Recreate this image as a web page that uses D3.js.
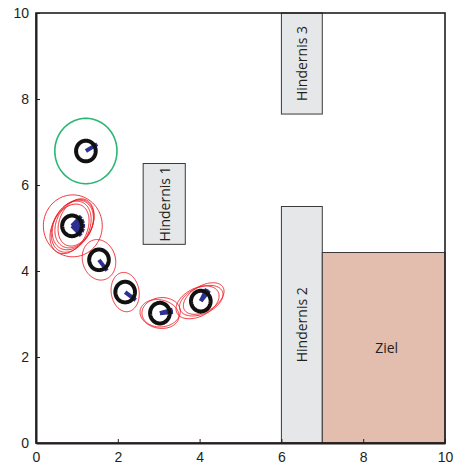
<!DOCTYPE html>
<html>
<head>
<meta charset="utf-8">
<script src="https://cdn.jsdelivr.net/npm/d3@7"></script>
<style>
  html, body { margin: 0; padding: 0; background: #fff; }
  svg { display: block; }
</style>
</head>
<body>
<svg id="chart" width="456" height="468"></svg>
<script>
// Axis ticks
const xTicks = [0, 2, 4, 6, 8, 10];
const yTicks = [0, 2, 4, 6, 8, 10];

// Obstacles and goal region: [x0, x1, y0, y1]
const regionNames = ["Hindernis 1", "Hindernis 2", "Hindernis 3", "Ziel"];
const regionX0 = [2.62, 6.0, 6.0, 7.0];
const regionX1 = [3.65, 7.0, 7.0, 10.0];
const regionY0 = [4.62, 0.0, 7.65, 0.0];
const regionY1 = [6.5, 5.5, 10.0, 4.43];

// Robot poses along the path
const robotX = [1.22, 0.88, 1.54, 2.18, 3.03, 4.03];
const robotY = [6.79, 5.05, 4.26, 3.51, 3.02, 3.30];

// Heading samples (degrees) per pose: [pose index, angle]
const headingPose = [0, 1, 1, 1, 1, 1, 2, 3, 4, 4, 5, 5];
const headingDeg  = [30, -45, -22, 0, 22, 45, -52, -36, 5, 15, 63, 50];

// Uncertainty ellipses: centre, semi-axes (data units), rotation (degrees)
const initCx = [1.22], initCy = [6.79], initA = [0.76], initB = [0.76], initRot = [0];
const ellCx  = [0.90, 0.82, 0.86, 0.90, 0.94, 0.98, 1.54, 2.18, 3.02, 3.06, 3.95, 4.04, 4.10];
const ellCy  = [5.05, 4.98, 5.03, 5.07, 5.10, 5.13, 4.26, 3.51, 3.00, 3.04, 3.27, 3.31, 3.36];
const ellA   = [0.72, 0.62, 0.63, 0.62, 0.60, 0.58, 0.48, 0.46, 0.48, 0.47, 0.56, 0.56, 0.54];
const ellB   = [0.72, 0.42, 0.44, 0.45, 0.43, 0.40, 0.40, 0.34, 0.33, 0.34, 0.33, 0.31, 0.30];
const ellRot = [0, 60, 62, 58, 60, 64, -70, -80, -10, 5, 25, 22, 28];

const robotR = 0.24;
const headingLen = 0.32;

const svg = d3.select("#chart");
const margin = { left: 36, right: 11, top: 13, bottom: 25 };
const W = 456, H = 468;

const x = d3.scaleLinear().domain([0, 10]).range([margin.left, W - margin.right]);
const y = d3.scaleLinear().domain([0, 10]).range([H - margin.bottom, margin.top]);

const ink = "#231f20";

// Regions
const regions = regionNames.map((n, i) => ({
  name: n, x0: regionX0[i], x1: regionX1[i], y0: regionY0[i], y1: regionY1[i]
}));
const rg = svg.append("g");
rg.selectAll("rect").data(regions).join("rect")
  .attr("x", d => x(d.x0))
  .attr("y", d => y(d.y1))
  .attr("width", d => x(d.x1) - x(d.x0))
  .attr("height", d => y(d.y0) - y(d.y1))
  .attr("fill", d => d.name === "Ziel" ? "#e3bdae" : "#e6e7e8")
  .attr("stroke", "#3a3a3a")
  .attr("stroke-width", 1);

rg.selectAll("text").data(regions).join("text")
  .attr("transform", d => {
    const cx = x((d.x0 + d.x1) / 2) + (d.name === "Ziel" ? 3 : 0), cy = y((d.y0 + d.y1) / 2);
    return d.name === "Ziel" ? `translate(${cx},${cy})` : `translate(${cx},${cy}) rotate(-90)`;
  })
  .attr("text-anchor", "middle")
  .attr("dominant-baseline", "central")
  .attr("font-family", "'Open Sans', sans-serif")
  .attr("font-size", 14)
  .attr("fill", ink)
  .text(d => d.name);

// Ellipse path in data space, mapped through the scales
function ellipsePath(cx, cy, a, b, rotDeg) {
  const t = rotDeg * Math.PI / 180;
  const pts = d3.range(0, 121).map(k => {
    const u = k / 120 * 2 * Math.PI;
    const ex = a * Math.cos(u), ey = b * Math.sin(u);
    return [x(cx + ex * Math.cos(t) - ey * Math.sin(t)), y(cy + ex * Math.sin(t) + ey * Math.cos(t))];
  });
  return d3.line()(pts) + "Z";
}

const eg = svg.append("g").attr("fill", "none");
eg.selectAll("path.init").data(d3.range(initCx.length)).join("path")
  .attr("class", "init")
  .attr("d", i => ellipsePath(initCx[i], initCy[i], initA[i], initB[i], initRot[i]))
  .attr("stroke", "#2bb673")
  .attr("stroke-width", 1.6);
eg.selectAll("path.cov").data(d3.range(ellCx.length)).join("path")
  .attr("class", "cov")
  .attr("d", i => ellipsePath(ellCx[i], ellCy[i], ellA[i], ellB[i], ellRot[i]))
  .attr("stroke", "#ed1c24")
  .attr("stroke-width", 0.9);

// Heading lines
svg.append("g").selectAll("line").data(d3.range(headingPose.length)).join("line")
  .attr("x1", i => x(robotX[headingPose[i]]))
  .attr("y1", i => y(robotY[headingPose[i]]))
  .attr("x2", i => x(robotX[headingPose[i]] + headingLen * Math.cos(headingDeg[i] * Math.PI / 180)))
  .attr("y2", i => y(robotY[headingPose[i]] + headingLen * Math.sin(headingDeg[i] * Math.PI / 180)))
  .attr("stroke", "#2e3192")
  .attr("stroke-width", 4);

// Robot bodies
svg.append("g").selectAll("path").data(d3.range(robotX.length)).join("path")
  .attr("d", i => ellipsePath(robotX[i], robotY[i], robotR, robotR, 0))
  .attr("fill", "none")
  .attr("stroke", "#111")
  .attr("stroke-width", 4);

// Frame
svg.append("rect")
  .attr("x", x(0)).attr("y", y(10))
  .attr("width", x(10) - x(0)).attr("height", y(0) - y(10))
  .attr("fill", "none").attr("stroke", ink).attr("stroke-width", 1.6);

// Axes
const xAxis = svg.append("g")
  .attr("transform", `translate(0,${y(0)})`)
  .call(d3.axisBottom(x).tickValues(xTicks).tickSizeInner(-4).tickSizeOuter(0).tickPadding(9));
const yAxis = svg.append("g")
  .attr("transform", `translate(${x(0)},0)`)
  .call(d3.axisLeft(y).tickValues(yTicks).tickSizeInner(-4).tickSizeOuter(0).tickPadding(7));

[xAxis, yAxis].forEach(g => {
  g.select(".domain").attr("stroke", ink).attr("stroke-width", 2);
  g.selectAll(".tick line").attr("stroke", ink).attr("stroke-width", 1);
  g.selectAll(".tick text")
    .attr("font-family", "'Liberation Sans', Arial, sans-serif")
    .attr("font-size", 14)
    .attr("fill", ink);
});
</script>
</body>
</html>
